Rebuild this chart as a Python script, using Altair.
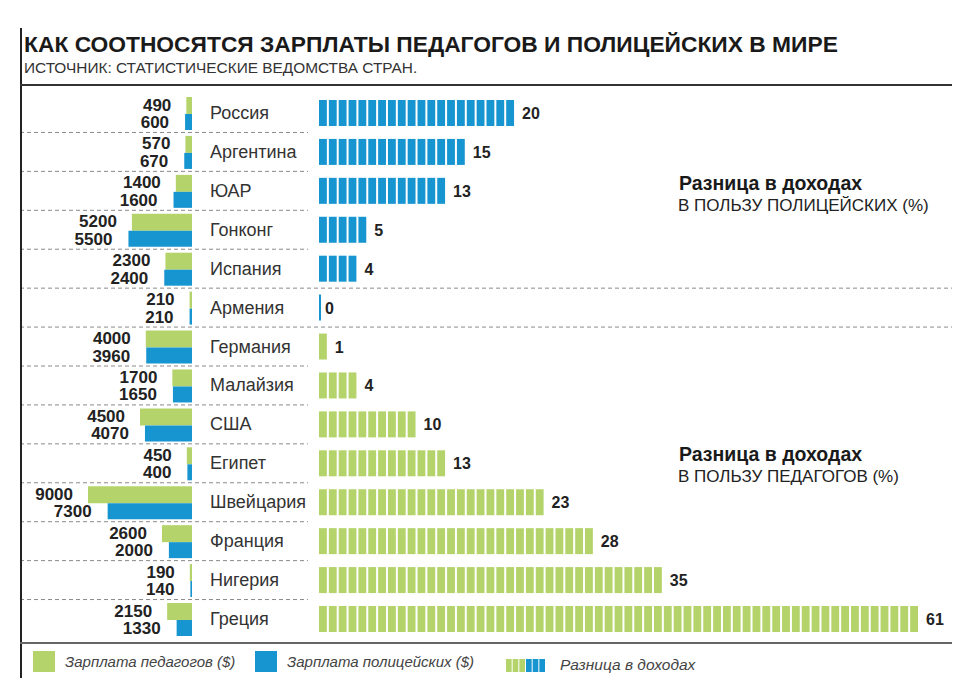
import altair as alt
import pandas as pd

countries = ["Россия", "Аргентина", "ЮАР", "Гонконг", "Испания", "Армения", "Германия",
             "Малайзия", "США", "Египет", "Швейцария", "Франция", "Нигерия", "Греция"]
teachers = [490, 570, 1400, 5200, 2300, 210, 4000, 1700, 4500, 450, 9000, 2600, 190, 2150]
police = [600, 670, 1600, 5500, 2400, 210, 3960, 1650, 4070, 400, 7300, 2000, 140, 1330]
diff = [20, 15, 13, 5, 4, 0, 1, 4, 10, 13, 23, 28, 35, 61]
favors = ["police"] * 6 + ["teachers"] * 8

GREEN = "#b4d46b"
BLUE = "#1795d0"
FONT = "Liberation Sans"

rows = pd.DataFrame({
    "row": list(range(len(countries))),
    "country": countries,
    "teachers": teachers,
    "police": police,
    "diff": diff,
    "favors": favors,
})

seg_records = []
for i, (d, f) in enumerate(zip(diff, favors)):
    for k in range(d):
        seg_records.append({"row": i, "start": k, "end": k + 1, "favors": f})
segs = pd.DataFrame(seg_records)

sep_records = []
for i in range(len(countries) - 1):
    sep_records.append({"pos": i + 0.5, "full": i in (4, 5)})
seps = pd.DataFrame(sep_records)

yscale = alt.Scale(domain=[0, 13], range=[105, 611])
lscale = alt.Scale(domain=[0, 9000], range=[184, 80])
rscale = alt.Scale(domain=[0, 61], range=[311, 912])
cscale = alt.Scale(domain=["police", "teachers"], range=[BLUE, GREEN])

Y = alt.Y("row:Q", scale=yscale, axis=None)
Y2 = alt.Y2("row")

base = alt.Chart(rows)

teacher_bars = base.mark_rect(color=GREEN, yOffset=-16, y2Offset=1).encode(
    x=alt.X("teachers:Q", scale=lscale, axis=None), x2=alt.X2("zero:Q"), y=Y, y2=Y2
).transform_calculate(zero="0")
police_bars = base.mark_rect(color=BLUE, yOffset=1, y2Offset=17).encode(
    x=alt.X("police:Q", scale=lscale, axis=None), x2=alt.X2("zero:Q"), y=Y, y2=Y2
).transform_calculate(zero="0")

teacher_lbl = base.mark_text(align="right", baseline="middle", dx=-15, dy=-7.5, font=FONT,
                             fontSize=17, fontWeight="bold", color="#222").encode(
    x=alt.X("teachers:Q", scale=lscale, axis=None), y=Y, text="teachers:Q")
police_lbl = base.mark_text(align="right", baseline="middle", dx=-16, dy=10, font=FONT,
                            fontSize=17, fontWeight="bold", color="#222").encode(
    x=alt.X("police:Q", scale=lscale, axis=None), y=Y, text="police:Q")

country_lbl = base.mark_text(align="left", baseline="middle", font=FONT, fontSize=18,
                             color="#333", dy=1).encode(
    x=alt.value(202), y=Y, text="country:N")

seg_bars = alt.Chart(segs).mark_rect(yOffset=-13, y2Offset=13, x2Offset=-2).encode(
    x=alt.X("start:Q", scale=rscale, axis=None), x2="end:Q", y=Y, y2=Y2,
    color=alt.Color("favors:N", scale=cscale, legend=None))

zero_bar = base.mark_rect(yOffset=-13, y2Offset=13, x2Offset=2).encode(
    x=alt.X("diff:Q", scale=rscale, axis=None), x2="diff:Q", y=Y, y2=Y2,
    color=alt.Color("favors:N", scale=cscale, legend=None)
).transform_filter("datum.diff == 0")

diff_lbl = base.mark_text(align="left", baseline="middle", dx=6, dy=1, font=FONT,
                          fontSize=16, fontWeight="bold", color="#222").encode(
    x=alt.X("diff:Q", scale=rscale, axis=None), y=Y, text="diff:Q")

sep_short = alt.Chart(seps).mark_rule(color="#8a8a8a", strokeDash=[4, 3], strokeWidth=1).encode(
    y=alt.Y("pos:Q", scale=yscale, axis=None),
    x=alt.value(12), x2=alt.value(300),
).transform_filter("!datum.full")
sep_full = alt.Chart(seps).mark_rule(color="#8a8a8a", strokeDash=[4, 3], strokeWidth=1).encode(
    y=alt.Y("pos:Q", scale=yscale, axis=None),
    x=alt.value(12), x2=alt.value(952),
).transform_filter("datum.full")

one = alt.Chart(pd.DataFrame({"a": [0]}))

# frame lines
vline = one.mark_rule(color="#222", strokeWidth=2).encode(
    x=alt.value(13), y=alt.value(20), y2=alt.value(680))
top_line = one.mark_rule(color="#333", strokeWidth=2).encode(
    x=alt.value(12), x2=alt.value(952), y=alt.value(77))
bottom_line = one.mark_rule(color="#666", strokeWidth=2).encode(
    x=alt.value(12), x2=alt.value(952), y=alt.value(635))

title_text = ["КАК СООТНОСЯТСЯ ЗАРПЛАТЫ ПЕДАГОГОВ И ПОЛИЦЕЙСКИХ В МИРЕ"]
subtitle_text = ["ИСТОЧНИК: СТАТИСТИЧЕСКИЕ ВЕДОМСТВА СТРАН."]

title = one.mark_text(align="left", baseline="alphabetic", font=FONT, fontSize=22.8,
                      fontWeight="bold", color="#1a1a1a", text=title_text[0]).encode(
    x=alt.value(16), y=alt.value(44))
subtitle = one.mark_text(align="left", baseline="alphabetic", font=FONT, fontSize=15.4,
                         color="#333", text=subtitle_text[0]).encode(
    x=alt.value(16), y=alt.value(65))

ann_bold = ["Разница в доходах", "Разница в доходах"]
ann_sub = ["В ПОЛЬЗУ ПОЛИЦЕЙСКИХ (%)", "В ПОЛЬЗУ ПЕДАГОГОВ (%)"]
ann_y = [176, 447]
ann1 = one.mark_text(align="left", baseline="middle", font=FONT, fontSize=19.5,
                     fontWeight="bold", color="#1a1a1a", text=ann_bold[0]).encode(
    x=alt.value(671), y=alt.value(ann_y[0]))
ann2 = one.mark_text(align="left", baseline="middle", font=FONT, fontSize=17,
                     color="#222", text=ann_sub[0]).encode(
    x=alt.value(670), y=alt.value(ann_y[0] + 22))
ann3 = one.mark_text(align="left", baseline="middle", font=FONT, fontSize=19.5,
                     fontWeight="bold", color="#1a1a1a", text=ann_bold[1]).encode(
    x=alt.value(671), y=alt.value(ann_y[1]))
ann4 = one.mark_text(align="left", baseline="middle", font=FONT, fontSize=17,
                     color="#222", text=ann_sub[1]).encode(
    x=alt.value(670), y=alt.value(ann_y[1] + 22))

# legend
legend_labels = ["Зарплата педагогов ($)", "Зарплата полицейских ($)", "Разница в доходах"]
lg_green = one.mark_rect(color=GREEN).encode(
    x=alt.value(25), x2=alt.value(47), y=alt.value(643), y2=alt.value(664))
lg_blue = one.mark_rect(color=BLUE).encode(
    x=alt.value(247), x2=alt.value(269), y=alt.value(643), y2=alt.value(664))
icon = pd.DataFrame({"k": [0, 1, 2, 3, 4, 5],
                     "c": ["teachers"] * 3 + ["police"] * 3})
icon_scale = alt.Scale(domain=[0, 6], range=[498, 538])
lg_icon = alt.Chart(icon).mark_rect(x2Offset=-1).encode(
    x=alt.X("k:Q", scale=icon_scale, axis=None),
    x2=alt.X2("k1:Q"),
    y=alt.value(651), y2=alt.value(664),
    color=alt.Color("c:N", scale=cscale, legend=None),
).transform_calculate(k1="datum.k + 1")
lg_t1 = one.mark_text(align="left", baseline="middle", font=FONT, fontSize=15,
                      fontStyle="italic", color="#444", text=legend_labels[0]).encode(
    x=alt.value(57), y=alt.value(654))
lg_t2 = one.mark_text(align="left", baseline="middle", font=FONT, fontSize=15,
                      fontStyle="italic", color="#444", text=legend_labels[1]).encode(
    x=alt.value(279), y=alt.value(654))
lg_t3 = one.mark_text(align="left", baseline="middle", font=FONT, fontSize=15.5,
                      fontStyle="italic", color="#444", text=legend_labels[2]).encode(
    x=alt.value(552), y=alt.value(657))

chart = alt.layer(
    sep_short, sep_full, vline, top_line, bottom_line,
    teacher_bars, police_bars, teacher_lbl, police_lbl, country_lbl,
    seg_bars, zero_bar, diff_lbl,
    title, subtitle, ann1, ann2, ann3, ann4,
    lg_green, lg_blue, lg_icon, lg_t1, lg_t2, lg_t3,
).resolve_scale(x="independent", color="independent").properties(
    width=944, height=670, padding=0, autosize=alt.AutoSizeParams(type="none"),
    background="white",
).configure_view(stroke=None)

chart.save("out.html", embed_options={"renderer": "svg", "actions": False})
